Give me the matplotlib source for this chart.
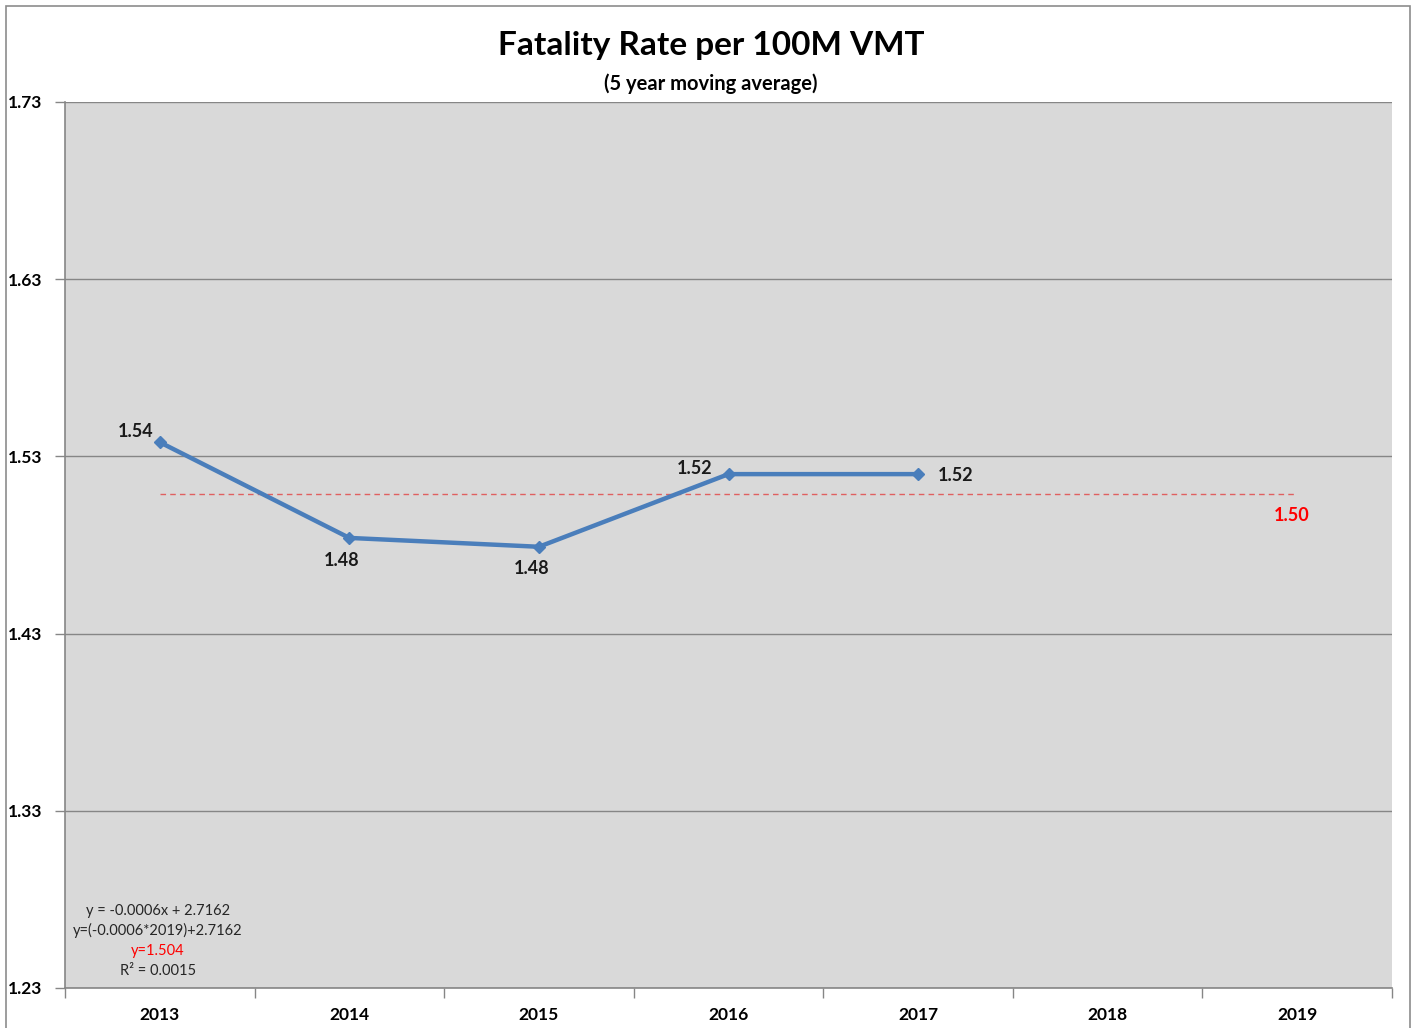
import matplotlib
matplotlib.use("Agg")
import matplotlib.pyplot as plt
from matplotlib.patches import Rectangle

# data
years = ["2013", "2014", "2015", "2016", "2017", "2018", "2019"]
rate = [1.538, 1.484, 1.479, 1.520, 1.520]
trend_level = 1.5086
trend_label = "1.50"
y_ticks = [1.23, 1.33, 1.43, 1.53, 1.63, 1.73]
eq_lines = ["y = -0.0006x + 2.7162", "y=(-0.0006*2019)+2.7162", "y=1.504", "R² = 0.0015"]

plt.rcParams['font.family'] = ['Lato', 'DejaVu Sans']

W, H = 1418, 1028
fig = plt.figure(figsize=(W / 100, H / 100), dpi=100)
fig.patch.set_facecolor('white')

# outer chart border
fig.patches.append(Rectangle((6 / W, -0.01), 1404 / W, (H - 6) / H + 0.01,
                             transform=fig.transFigure, fill=False,
                             edgecolor='#8c8c8c', linewidth=1.2))

L, R, T, B = 65, 1392, 102, 988
ax = fig.add_axes([L / W, (H - B) / H, (R - L) / W, (B - T) / H])
ax.set_facecolor('#d9d9d9')

x = list(range(len(rate)))
ax.plot(x, rate, color='#4a7ebb', linewidth=3.2, marker='D', markersize=6,
        markeredgecolor='#4a7ebb', zorder=4)

# trend line
ax.plot([0, len(years) - 1], [trend_level, trend_level], color='#e06060',
        linewidth=1.0, linestyle=(0, (4, 3)), zorder=3)
ax.text(len(years) - 1 - 0.03, trend_level - 0.012, trend_label, color='#ff0000',
        fontsize=13, fontweight='bold', ha='center', va='center')

# data labels
offsets = [(-0.13, 0.006), (-0.04, -0.013), (-0.04, -0.012),
           (-0.18, 0.003), (0.2, -0.001)]
for i, v in enumerate(rate):
    dx, dy = offsets[i]
    ax.text(i + dx, v + dy, f"{v:.2f}", fontsize=13, fontweight='bold',
            ha='center', va='center', color='#1a1a1a', zorder=5)

# equation box text
for k, s in enumerate(eq_lines):
    ax.text(-0.01, 1.2737 - k * 0.0113, s, fontsize=10.5, ha='center', va='center',
            color='#ff0000' if k == 2 else '#262626')

ax.set_xlim(-0.5, len(years) - 0.5)
ax.set_ylim(y_ticks[0], y_ticks[-1])
ax.set_yticks(y_ticks)
ax.set_yticklabels([f"{t:.2f}" for t in y_ticks], fontsize=12.5, fontweight='bold')
ax.tick_params(axis='y', length=7, width=1, color='#868686', pad=9)

ax.set_xticks(range(len(years)))
ax.set_xticklabels(years, fontsize=12.5, fontweight='bold')
ax.tick_params(axis='x', which='major', length=0, pad=14)
ax.set_xticks([i - 0.5 for i in range(len(years) + 1)], minor=True)
ax.tick_params(axis='x', which='minor', length=7, width=1, color='#868686')

ax.grid(axis='y', color='#868686', linewidth=1.0)
ax.set_axisbelow(True)
for side in ['top', 'right']:
    ax.spines[side].set_visible(False)
for side in ['left', 'bottom']:
    ax.spines[side].set_color('#868686')
    ax.spines[side].set_linewidth(1.2)

fig.text(711 / W, 1 - 46 / H, "Fatality Rate per 100M VMT", fontsize=24,
         fontweight='bold', ha='center', va='center')
fig.text(711 / W, 1 - 84 / H, "(5 year moving average)", fontsize=14.5,
         fontweight='bold', ha='center', va='center')

fig.savefig('out.png', dpi=100)
